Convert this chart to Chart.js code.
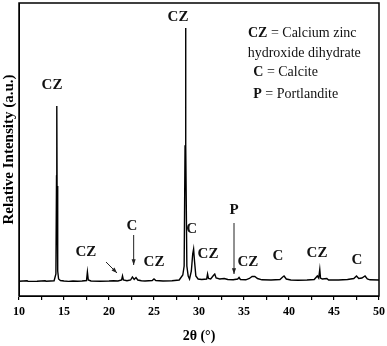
<!DOCTYPE html>
<html>
<head>
<meta charset="utf-8">
<script src="https://cdn.jsdelivr.net/npm/chart.js@4.4.0/dist/chart.umd.min.js"></script>
<style>
  html, body { margin: 0; padding: 0; background: #fff; }
  #wrap { width: 387px; height: 346px; }
</style>
</head>
<body>
<div id="wrap"><canvas id="xrd"></canvas></div>
<script>
// XRD pattern (2θ in degrees, intensity in a.u.)
const twoTheta = [
  10.0, 10.9, 11.0, 12.0, 12.9, 13.0, 13.5, 13.9, 14.1, 14.17, 14.2, 14.23, 14.3, 14.4, 14.6,
  15.0, 15.5, 16.0, 16.5, 17.0, 17.5, 17.6, 17.7, 18.0, 19.0, 20.0, 20.5, 21.0, 21.4, 21.5, 21.6,
  22.0, 22.4, 22.6, 22.8, 23.0, 23.2, 23.6, 24.0, 24.8, 25.0, 25.2, 26.0, 27.0, 27.8, 28.2, 28.35,
  28.45, 28.5, 28.55, 28.65, 28.8, 28.95, 29.15, 29.3, 29.4, 29.5, 29.65, 29.9, 30.3, 30.85, 30.95, 31.05,
  31.3, 31.6, 31.75, 31.9, 32.3, 32.8, 33.2, 33.8, 34.3, 34.45, 34.6, 35.2, 35.6, 35.9, 36.2, 36.5,
  37.0, 38.0, 39.0, 39.3, 39.45, 39.7, 40.2, 41.0, 42.0, 42.8, 43.15, 43.3, 43.42, 43.5, 43.7, 44.2,
  44.4, 45.5, 46.5, 47.2, 47.5, 47.75, 48.1, 48.45, 48.7, 49.0, 50.0
];
const intensity = [
  148, 152, 146, 148, 153, 148, 150, 152, 220, 1200, 1900, 1100, 250, 170, 155,
  150, 146, 150, 148, 150, 155, 240, 160, 150, 148, 150, 152, 150, 160, 200, 160,
  152, 160, 190, 165, 185, 160, 152, 150, 155, 170, 155, 150, 152, 160, 210, 300,
  1500, 2680, 1500, 300, 200, 170, 250, 420, 470, 350, 200, 170, 165, 170, 220, 175,
  170, 205, 220, 180, 170, 175, 165, 162, 170, 185, 165, 162, 175, 195, 195, 175,
  162, 160, 165, 190, 200, 170, 160, 158, 160, 165, 200, 180, 265, 180, 170, 175,
  160, 160, 165, 175, 200, 175, 180, 200, 170, 162, 160
];
const xTickStep = 2.5;
const xLabelStep = 5;

// phase labels and where they sit (data units)
const phaseText = ['CZ', 'CZ', 'CZ', 'C', 'CZ', 'C', 'CZ', 'P', 'CZ', 'C', 'CZ', 'C'];
const phaseX = [13.67, 27.67, 17.44, 22.56, 25.0, 29.19, 31.0, 33.89, 35.44, 38.78, 43.11, 47.56];
const phaseY = [2110, 2790, 440, 700, 340, 670, 420, 860, 340, 400, 430, 360];

// arrows: [x0, y0, x1, y1] in data units
const arrows = [
  [19.67, 340, 20.89, 230],
  [22.74, 610, 22.74, 310],
  [33.89, 730, 33.89, 220]
];

// key text
const keySymbol = ['CZ', '', 'C', 'P'];
const keyText = [' = Calcium zinc', 'hydroxide dihydrate', ' = Calcite', ' = Portlandite'];
const keyX = [35.44, 35.41, 36.03, 36.03];
const keyY = [2630, 2430, 2240, 2020];

const serif = "'Liberation Serif', 'Times New Roman', serif";

const overlay = {
  id: 'overlay',
  afterDatasetsDraw(chart) {
    const { ctx, chartArea: a, scales: { x, y } } = chart;
    ctx.save();
    ctx.strokeStyle = '#000';
    ctx.lineWidth = 1.5;
    ctx.strokeRect(a.left, a.top, a.right - a.left, a.bottom - a.top);

    ctx.fillStyle = '#111';
    ctx.textAlign = 'center';
    ctx.textBaseline = 'middle';
    ctx.font = 'bold 15px ' + serif;
    phaseText.forEach((t, i) => {
      ctx.fillText(t, x.getPixelForValue(phaseX[i]), y.getPixelForValue(phaseY[i]));
    });

    ctx.strokeStyle = '#222';
    ctx.fillStyle = '#222';
    ctx.lineWidth = 1;
    arrows.forEach(([x0, y0, x1, y1]) => {
      const px0 = x.getPixelForValue(x0), py0 = y.getPixelForValue(y0);
      const px1 = x.getPixelForValue(x1), py1 = y.getPixelForValue(y1);
      const ang = Math.atan2(py1 - py0, px1 - px0);
      ctx.beginPath();
      ctx.moveTo(px0, py0);
      ctx.lineTo(px1, py1);
      ctx.stroke();
      ctx.beginPath();
      ctx.moveTo(px1, py1);
      ctx.lineTo(px1 - 6 * Math.cos(ang - 0.35), py1 - 6 * Math.sin(ang - 0.35));
      ctx.lineTo(px1 - 6 * Math.cos(ang + 0.35), py1 - 6 * Math.sin(ang + 0.35));
      ctx.closePath();
      ctx.fill();
    });

    ctx.fillStyle = '#111';
    ctx.textAlign = 'left';
    keyText.forEach((t, i) => {
      let px = x.getPixelForValue(keyX[i]);
      const py = y.getPixelForValue(keyY[i]);
      if (keySymbol[i]) {
        ctx.font = 'bold 14px ' + serif;
        ctx.fillText(keySymbol[i], px, py);
        px += ctx.measureText(keySymbol[i]).width;
      }
      ctx.font = '14px ' + serif;
      ctx.fillText(t, px, py);
    });
    ctx.restore();
  }
};

new Chart(document.getElementById('xrd'), {
  type: 'line',
  data: {
    datasets: [{
      data: twoTheta.map((t, i) => ({ x: t, y: intensity[i] })),
      borderColor: '#000',
      borderWidth: 1.4,
      pointRadius: 0,
      tension: 0,
      fill: false
    }]
  },
  options: {
    responsive: true,
    maintainAspectRatio: false,
    animation: false,
    layout: { padding: { top: 3, right: 8, left: 0, bottom: 0 } },
    plugins: { legend: { display: false }, tooltip: { enabled: false } },
    scales: {
      x: {
        type: 'linear',
        min: 10,
        max: 50,
        afterFit: s => { s.height = 50; s.paddingLeft = 0; s.paddingRight = 0; },
        ticks: {
          stepSize: xTickStep,
          autoSkip: false,
          maxRotation: 0,
          padding: 5,
          color: '#000',
          font: { family: serif, size: 12, weight: 'bold' },
          callback: v => (v % xLabelStep === 0 ? v : '')
        },
        grid: { drawOnChartArea: false, drawTicks: true, tickLength: 4, color: '#000', lineWidth: 1.2 },
        border: { display: true, color: '#000', width: 1 },
        title: {
          display: true,
          text: '2θ (°)',
          color: '#000',
          font: { family: serif, size: 14, weight: 'bold' },
          padding: { top: 0, bottom: 1 }
        }
      },
      y: {
        min: 0,
        max: 2930,
        afterFit: s => { s.width = 19; },
        ticks: { display: false },
        grid: { display: false },
        border: { display: true, color: '#000', width: 1 },
        title: {
          display: true,
          text: 'Relative Intensity (a.u.)',
          color: '#000',
          font: { family: serif, size: 15, weight: 'bold' },
          padding: 0
        }
      }
    }
  },
  plugins: [overlay]
});
</script>
</body>
</html>
